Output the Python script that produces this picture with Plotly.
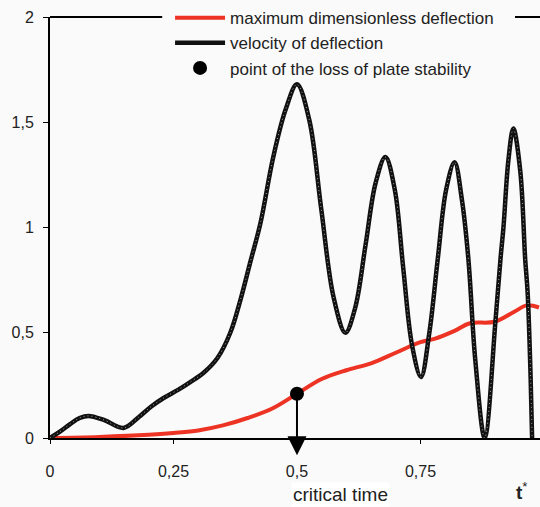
import plotly.graph_objects as go

# maximum dimensionless deflection
t_def = [0, 0.1, 0.2, 0.25, 0.3, 0.35, 0.4, 0.45, 0.5, 0.55, 0.6, 0.65, 0.7,
         0.75, 0.78, 0.82, 0.85, 0.9, 0.94, 0.965, 0.99]
deflection = [0, 0.005, 0.015, 0.024, 0.036, 0.06, 0.095, 0.14, 0.21, 0.28, 0.322,
              0.355, 0.405, 0.455, 0.472, 0.51, 0.545, 0.552, 0.6, 0.63, 0.62]

# velocity of deflection
t_vel = [0, 0.02, 0.04, 0.06, 0.078, 0.11, 0.149, 0.18, 0.205, 0.23, 0.26, 0.284,
         0.311, 0.339, 0.365, 0.386, 0.406, 0.426, 0.452, 0.477, 0.5, 0.525, 0.549,
         0.574, 0.598, 0.618, 0.639, 0.659, 0.679, 0.698, 0.715, 0.733, 0.751,
         0.768, 0.785, 0.802, 0.819, 0.834, 0.847, 0.861, 0.88, 0.902, 0.912,
         0.918, 0.928, 0.938, 0.952, 0.962, 0.967, 0.973, 0.976]
velocity = [0, 0.03, 0.065, 0.095, 0.105, 0.085, 0.048, 0.1, 0.15, 0.19, 0.23, 0.266,
            0.31, 0.38, 0.5, 0.66, 0.84, 1.02, 1.335, 1.56, 1.68, 1.51, 1.09,
            0.67, 0.5, 0.62, 0.92, 1.21, 1.335, 1.18, 0.81, 0.44, 0.29,
            0.5, 0.85, 1.18, 1.31, 1.13, 0.85, 0.37, 0.0, 0.56, 0.85,
            1.0, 1.32, 1.47, 1.27, 0.85, 0.69, 0.29, 0.0]

# point of the loss of plate stability
t_crit = [0.5]
v_crit = [0.21]
arrow_tip = -0.082

x_ticks = [0, 0.25, 0.5, 0.75]
y_ticks = [0, 0.5, 1, 1.5, 2]

RED = "#ec3324"
FONT = "Liberation Sans, Arial, sans-serif"

fig = go.Figure()
fig.add_trace(go.Scatter(x=t_def, y=deflection, mode="lines",
                         line=dict(color=RED, width=4, shape="spline"),
                         name="maximum dimensionless deflection"))
fig.add_trace(go.Scatter(x=t_vel, y=velocity, mode="lines",
                         line=dict(color="#111", width=4.5, shape="spline"),
                         name="velocity of deflection"))
fig.add_trace(go.Scatter(x=t_vel, y=velocity, mode="lines",
                         line=dict(color="rgba(255,255,255,0.8)", width=0.8,
                                   dash="1px,3px", shape="spline"),
                         showlegend=False, hoverinfo="skip"))
fig.add_trace(go.Scatter(x=t_crit, y=v_crit, mode="markers",
                         marker=dict(color="black", size=14),
                         name="point of the loss of plate stability"))

fig.add_annotation(x=t_crit[0], y=arrow_tip, ax=t_crit[0], ay=v_crit[0],
                   xref="x", yref="y", axref="x", ayref="y", text="",
                   showarrow=True, arrowhead=2, arrowsize=1.9, arrowwidth=2,
                   arrowcolor="black", standoff=0, startstandoff=0)
fig.add_annotation(x=0.592, y=-0.163, xref="paper", yref="paper", text="critical time",
                   showarrow=False, font=dict(size=19, color="#222", family=FONT),
                   bgcolor="white")
fig.add_annotation(x=0.98, y=-0.16, xref="paper", yref="paper",
                   text="<b>t</b><sup>*</sup>",
                   showarrow=False, font=dict(size=19, color="#222", family=FONT))

# top frame line, interrupted by the legend
fig.add_shape(type="line", xref="paper", yref="paper", x0=0, x1=0.229, y0=1, y1=1,
              line=dict(color="black", width=2))
fig.add_shape(type="line", xref="paper", yref="paper", x0=0.949, x1=1, y0=1, y1=1,
              line=dict(color="black", width=2))

fig.update_layout(
    width=540, height=507,
    margin=dict(l=50, r=0, t=17, b=69),
    paper_bgcolor="#fafafa", plot_bgcolor="#fafafa",
    separators=", ",
    font=dict(family=FONT, size=16, color="#222"),
    showlegend=True,
    legend=dict(x=0.245, y=1.04, xanchor="left", yanchor="top",
                bgcolor="rgba(0,0,0,0)", borderwidth=0, itemwidth=50,
                tracegroupgap=0, font=dict(size=17, color="#222")),
    xaxis=dict(range=[0, 0.992], tickvals=x_ticks, showgrid=False, zeroline=False,
               showline=True, linecolor="black", linewidth=2,
               ticks="outside", ticklen=4, tickcolor="black", tickwidth=1,
               ticklabelstandoff=14),
    yaxis=dict(range=[0, 2], tickvals=y_ticks, showgrid=False, zeroline=False,
               showline=True, linecolor="black", linewidth=2,
               ticks="outside", ticklen=5, tickcolor="black", tickwidth=1,
               ticklabelstandoff=6),
)

fig.write_html("out.html")
